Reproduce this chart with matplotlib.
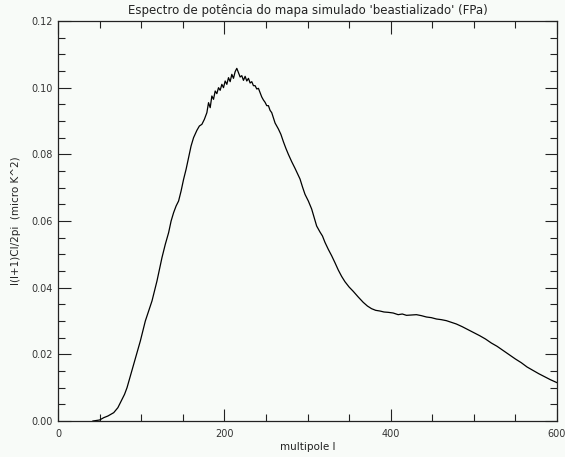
import matplotlib
matplotlib.use("Agg")
import matplotlib.pyplot as plt
from matplotlib.ticker import MultipleLocator

multipole = [42, 50, 55, 60, 67, 72, 75, 80, 83, 87, 91, 95, 99, 102, 105, 109, 113, 116, 119, 122,
             125, 129, 133, 136, 139, 142, 145, 148, 151, 154, 157, 160, 163, 167, 170, 173, 176, 179,
             181, 183, 185, 187, 189, 191, 193, 195, 197, 199, 201, 203, 205, 207, 209, 211, 213, 215,
             217, 219, 221, 223, 225, 227, 229, 231, 233, 235, 237, 239, 241, 243, 245, 247, 249, 251,
             253, 255, 257, 259, 261, 263, 265, 268, 271, 274, 277, 281, 285, 288, 291, 294, 297, 301,
             305, 308, 311, 315, 318, 321, 325, 329, 333, 337, 341, 345, 350, 355, 361, 367, 372, 377,
             382, 387, 392, 397, 403, 409, 414, 419, 425, 431, 437, 443, 449, 455, 461, 467, 473, 479,
             486, 493, 500, 507, 514, 521, 528, 535, 543, 550, 557, 564, 571, 578, 585, 592, 600]
power = [0.0, 0.0003, 0.001, 0.0015, 0.0025, 0.004, 0.0055, 0.008, 0.010, 0.0135, 0.017, 0.0205, 0.024,
         0.027, 0.030, 0.033, 0.036, 0.039, 0.042, 0.0455, 0.049, 0.053, 0.0565, 0.060, 0.0625, 0.0645,
         0.066, 0.069, 0.0725, 0.0755, 0.079, 0.0825, 0.085, 0.0872, 0.0885, 0.089, 0.0905, 0.0925,
         0.0955, 0.094, 0.0975, 0.0965, 0.0990, 0.0982, 0.1000, 0.0992, 0.1010, 0.1000, 0.1020, 0.1010,
         0.1030, 0.1018, 0.1040, 0.1028, 0.1048, 0.1058, 0.1045, 0.1032, 0.1036, 0.1022, 0.1034, 0.1020,
         0.1028, 0.1014, 0.1018, 0.1006, 0.1006, 0.0996, 0.0998, 0.0985, 0.0972, 0.0963, 0.0956, 0.0946,
         0.0946, 0.0932, 0.0925, 0.0910, 0.0894, 0.0885, 0.0876, 0.0860, 0.0838, 0.0818, 0.0800, 0.0778,
         0.0758, 0.0742, 0.0726, 0.0702, 0.0680, 0.0660, 0.0636, 0.0610, 0.0585, 0.0567, 0.0555, 0.0536,
         0.0515, 0.0496, 0.0475, 0.0453, 0.0434, 0.0418, 0.0402, 0.0389, 0.0372, 0.0356, 0.0345, 0.0337,
         0.0332, 0.0330, 0.0327, 0.0326, 0.0324, 0.0319, 0.0321, 0.0317, 0.0318, 0.0319, 0.0316, 0.0312,
         0.0310, 0.0306, 0.0304, 0.0301, 0.0296, 0.0291, 0.0283, 0.0274, 0.0265, 0.0256, 0.0246, 0.0234,
         0.0224, 0.0212, 0.0198, 0.0186, 0.0175, 0.0162, 0.0152, 0.0142, 0.0133, 0.0124, 0.0115]

title = "Espectro de potência do mapa simulado 'beastializado' (FPa)"
xlabel = "multipole l"
ylabel = "l(l+1)Cl/2pi  (micro K^2)"

bg = "#f8fbf8"
fig = plt.figure(figsize=(5.65, 4.57), dpi=100, facecolor=bg)
ax = fig.add_axes([58/565, 36/457, 499/565, 400/457], facecolor=bg)
ax.plot(multipole, power, color="black", lw=0.9)
ax.set_xlim(0, 600)
ax.set_ylim(0, 0.12)
ax.xaxis.set_major_locator(MultipleLocator(200))
ax.xaxis.set_minor_locator(MultipleLocator(50))
ax.yaxis.set_major_locator(MultipleLocator(0.02))
ax.yaxis.set_minor_locator(MultipleLocator(0.005))
ax.yaxis.set_major_formatter(plt.FuncFormatter(lambda v, p: f"{v:.2f}"))
ax.tick_params(which="both", direction="in", top=True, right=True, colors="#222222",
               labelsize=7, labelcolor="#333333")
ax.tick_params(which="major", length=9, width=0.8)
ax.tick_params(which="minor", length=5, width=0.8)
ax.tick_params(axis="x", pad=6)
for s in ax.spines.values():
    s.set_linewidth(0.9)
    s.set_color("#222222")
ax.set_title(title, fontsize=8.5, color="#222222", pad=5)
ax.set_xlabel(xlabel, fontsize=7.5, color="#222222", labelpad=2)
ax.set_ylabel(ylabel, fontsize=7.5, color="#222222", labelpad=8)
fig.savefig("out.png", dpi=100, facecolor=bg)
